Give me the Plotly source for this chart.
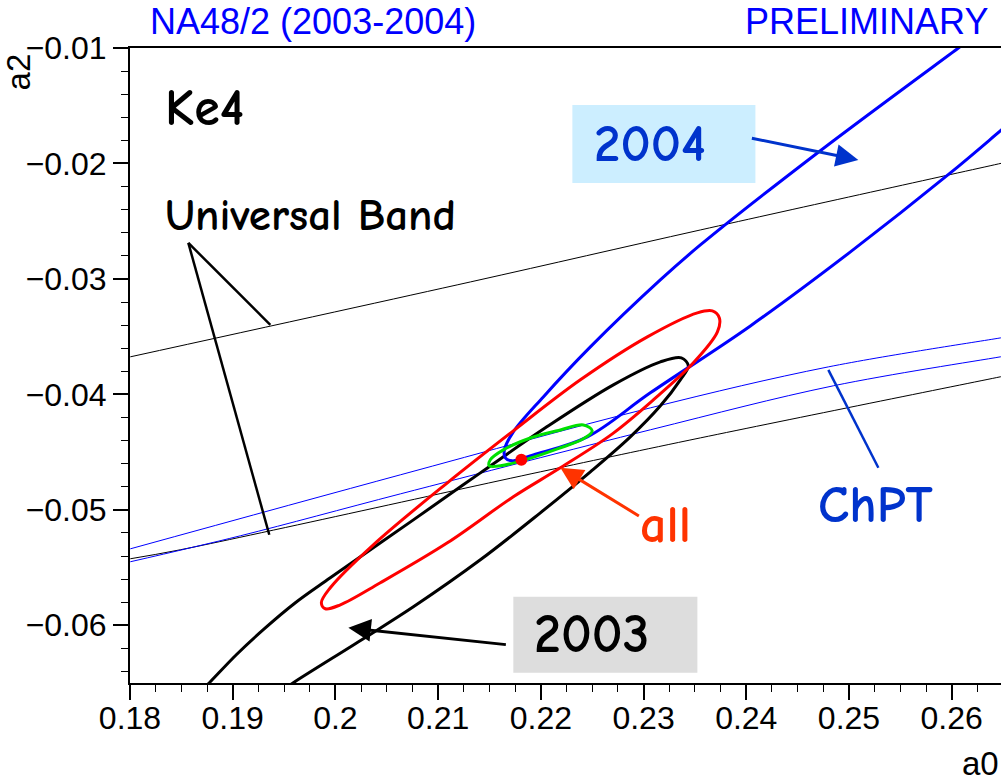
import plotly.graph_objects as go

# ---------------- axis ticks ----------------
x_ticks = [0.18, 0.19, 0.20, 0.21, 0.22, 0.23, 0.24, 0.25, 0.26]
x_tick_labels = ["0.18", "0.19", "0.2", "0.21", "0.22", "0.23", "0.24", "0.25", "0.26"]
y_ticks = [-0.06, -0.05, -0.04, -0.03, -0.02, -0.01]
y_tick_labels = ["\u22120.06", "\u22120.05", "\u22120.04", "\u22120.03", "\u22120.02", "\u22120.01"]

# ---------------- contours (a0, a2) ----------------
c2004_a0 = [0.26169, 0.26065, 0.24692, 0.23553, 0.23163, 0.22482, 0.22024, 0.21732, 0.21645,
            0.21654, 0.21722, 0.21927, 0.22453, 0.23066, 0.24040, 0.25014, 0.25987, 0.26484, 0.26611]
c2004_a2 = [-0.00931, -0.01000, -0.01909, -0.02706, -0.03009, -0.03589, -0.04022, -0.04325, -0.04481,
            -0.04550, -0.04576, -0.04524, -0.04368, -0.03987, -0.03407, -0.02766, -0.02082, -0.01710, -0.01615]

c2003_a0 = [0.18704, 0.18782, 0.19035, 0.19298, 0.19610, 0.19950, 0.20759, 0.21411, 0.22044, 0.22706,
            0.23164, 0.23368, 0.23436, 0.23358, 0.23164, 0.22871, 0.22482, 0.21995, 0.21411, 0.20759,
            0.20272, 0.19590, 0.19493]
c2003_a2 = [-0.06558, -0.06489, -0.06255, -0.06038, -0.05805, -0.05589, -0.05087, -0.04680, -0.04290, -0.03918,
            -0.03719, -0.03684, -0.03753, -0.03874, -0.04099, -0.04368, -0.04671, -0.05026, -0.05433, -0.05840,
            -0.06117, -0.06498, -0.06558]

call_a0 = [0.19863, 0.19950, 0.20369, 0.21090, 0.21732, 0.22385, 0.23037, 0.23524, 0.23670, 0.23738,
           0.23719, 0.23485, 0.23095, 0.22696, 0.22190, 0.21732, 0.21090, 0.20437, 0.20048, 0.19902,
           0.19863]
call_a2 = [-0.05805, -0.05675, -0.05303, -0.04766, -0.04316, -0.03874, -0.03502, -0.03294, -0.03277, -0.03338,
           -0.03459, -0.03727, -0.04048, -0.04342, -0.04636, -0.04887, -0.05286, -0.05632, -0.05823, -0.05857,
           -0.05805]

cgreen_a0 = [0.21508, 0.21635, 0.21898, 0.22190, 0.22414, 0.22500, 0.22414, 0.22161, 0.21878, 0.21606,
             0.21498, 0.21508]
cgreen_a2 = [-0.04567, -0.04481, -0.04378, -0.04308, -0.04265, -0.04316, -0.04385, -0.04472, -0.04558, -0.04619,
             -0.04619, -0.04567]

best_a0 = [0.21810]
best_a2 = [-0.04567]

# Universal band boundaries
ub_hi_a0 = [0.18003, 0.21315, 0.23553, 0.26455, 0.2660]
ub_hi_a2 = [-0.03675, -0.03026, -0.02576, -0.02004, -0.01975]
ub_lo_a0 = [0.18003, 0.18490, 0.21995, 0.23553, 0.26474, 0.2660]
ub_lo_a2 = [-0.05424, -0.05346, -0.04671, -0.04377, -0.03848, -0.03825]

# ChPT band
chpt_hi_a0 = [0.18003, 0.20632, 0.23066, 0.24799, 0.26474, 0.2660]
chpt_hi_a2 = [-0.05338, -0.04697, -0.04117, -0.03762, -0.03511, -0.03492]
chpt_lo_a0 = [0.18003, 0.19074, 0.20632, 0.23066, 0.24847, 0.26474, 0.2660]
chpt_lo_a2 = [-0.05450, -0.05225, -0.04862, -0.04307, -0.03926, -0.03675, -0.03656]

BLUE = "#0000ff"
DBLUE = "#0033cc"
ORANGE = "#ff3300"
COMIC = "Comic Sans MS, Comic Neue, DejaVu Sans, sans-serif"
ARIAL = "Liberation Sans, Arial, sans-serif"

fig = go.Figure()


def add_line(xs, ys, color, width, shape="spline"):
    fig.add_trace(go.Scatter(x=xs, y=ys, mode="lines",
                             line=dict(color=color, width=width, shape=shape, smoothing=1.0),
                             hoverinfo="skip", showlegend=False))


add_line(ub_hi_a0, ub_hi_a2, "black", 1)
add_line(ub_lo_a0, ub_lo_a2, "black", 1)
add_line(chpt_hi_a0, chpt_hi_a2, BLUE, 1)
add_line(chpt_lo_a0, chpt_lo_a2, BLUE, 1)
add_line(c2003_a0, c2003_a2, "black", 3)
add_line(c2004_a0, c2004_a2, BLUE, 3)
add_line(call_a0, call_a2, "#ff0000", 3)
add_line(cgreen_a0, cgreen_a2, "#00e000", 3)
fig.add_trace(go.Scatter(x=best_a0, y=best_a2, mode="markers",
                         marker=dict(color="#ff0000", size=12), hoverinfo="skip", showlegend=False))

# label boxes
fig.add_shape(type="rect", x0=0.22307, x1=0.24089, y0=-0.01494, y1=-0.02169,
              fillcolor="#cceeff", line=dict(width=0), layer="below")
fig.add_shape(type="rect", x0=0.21732, x1=0.23524, y0=-0.05753, y1=-0.06411,
              fillcolor="#dddddd", line=dict(width=0), layer="below")

# universal band pointers
fig.add_shape(type="line", x0=0.18568, y0=-0.02688, x1=0.19366, y1=-0.03398, line=dict(color="black", width=2.5))
fig.add_shape(type="line", x0=0.18568, y0=-0.02688, x1=0.19356, y1=-0.05216, line=dict(color="black", width=2.5))
# ChPT pointer
fig.add_shape(type="line", x0=0.24799, y0=-0.03788, x1=0.25286, y1=-0.04636, line=dict(color=DBLUE, width=2.5))


def arrow(hx, hy, tx, ty, color):
    fig.add_annotation(x=hx, y=hy, ax=tx, ay=ty, xref="x", yref="y", axref="x", ayref="y",
                       text="", showarrow=True, arrowhead=2, arrowsize=1.5, arrowwidth=3,
                       arrowcolor=color, standoff=0, startstandoff=0)


arrow(0.25091, -0.01970, 0.24040, -0.01779, DBLUE)
arrow(0.20126, -0.06022, 0.21674, -0.06169, "black")
arrow(0.22190, -0.04636, 0.22969, -0.05061, ORANGE)


def text(x, y, s, color, size, xanchor="center", family=COMIC, xref="x", yref="y", angle=0, weight=400):
    fig.add_annotation(x=x, y=y, xref=xref, yref=yref, text=s, showarrow=False,
                       font=dict(family=family, size=size, color=color, weight=weight),
                       xanchor=xanchor, yanchor="middle", textangle=angle)


text(0.18324, -0.01519, "Ke4", "black", 52, xanchor="left", weight=700)
text(0.18324, -0.02446, "Universal Band", "black", 45, xanchor="left", weight=700)
text(0.23066, -0.01823, "2004", DBLUE, 53, weight=700)
text(0.22492, -0.06082, "2003", "black", 54, weight=700)
text(0.23212, -0.05130, "all", ORANGE, 52, weight=700)
text(0.25257, -0.04957, "ChPT", DBLUE, 52, weight=700)

# titles
text(0.021, 1.041, "NA48/2 (2003-2004)", BLUE, 36, xanchor="left", family=ARIAL, xref="paper", yref="paper")
text(0.987, 1.041, "PRELIMINARY", BLUE, 36, xanchor="right", family=ARIAL, xref="paper", yref="paper")
text(0.9995, -0.127, "a0", "black", 33, xanchor="right", family=ARIAL, xref="paper", yref="paper")
text(-0.1275, 0.963, "a2", "black", 33, family=ARIAL, xref="paper", yref="paper", angle=-90)

fig.update_layout(
    width=1001, height=781,
    margin=dict(l=130, r=0, t=48, b=98),
    plot_bgcolor="white", paper_bgcolor="white",
    font=dict(family=ARIAL, color="black"),
    xaxis=dict(range=[0.18, 0.2648], tickvals=x_ticks, ticktext=x_tick_labels,
               ticks="outside", ticklen=15, tickwidth=2, tickcolor="black", ticklabelstandoff=-9,
               showline=True, linewidth=2, linecolor="black", mirror=True,
               showgrid=False, zeroline=False, tickfont=dict(size=32, family=ARIAL),
               minor=dict(dtick=0.0025, tick0=0.18, ticks="outside", ticklen=7, tickwidth=1, tickcolor="black")),
    yaxis=dict(range=[-0.065, -0.01], tickvals=y_ticks, ticktext=y_tick_labels,
               ticks="outside", ticklen=15, tickwidth=2, tickcolor="black",
               showline=True, linewidth=2, linecolor="black",
               showgrid=False, zeroline=False, tickfont=dict(size=32, family=ARIAL),
               minor=dict(dtick=0.002, tick0=-0.06, ticks="outside", ticklen=7, tickwidth=1, tickcolor="black")),
)

fig.write_html("out.html", config={"displayModeBar": False},
               post_script="document.body.style.margin='0';document.body.style.padding='0';")
